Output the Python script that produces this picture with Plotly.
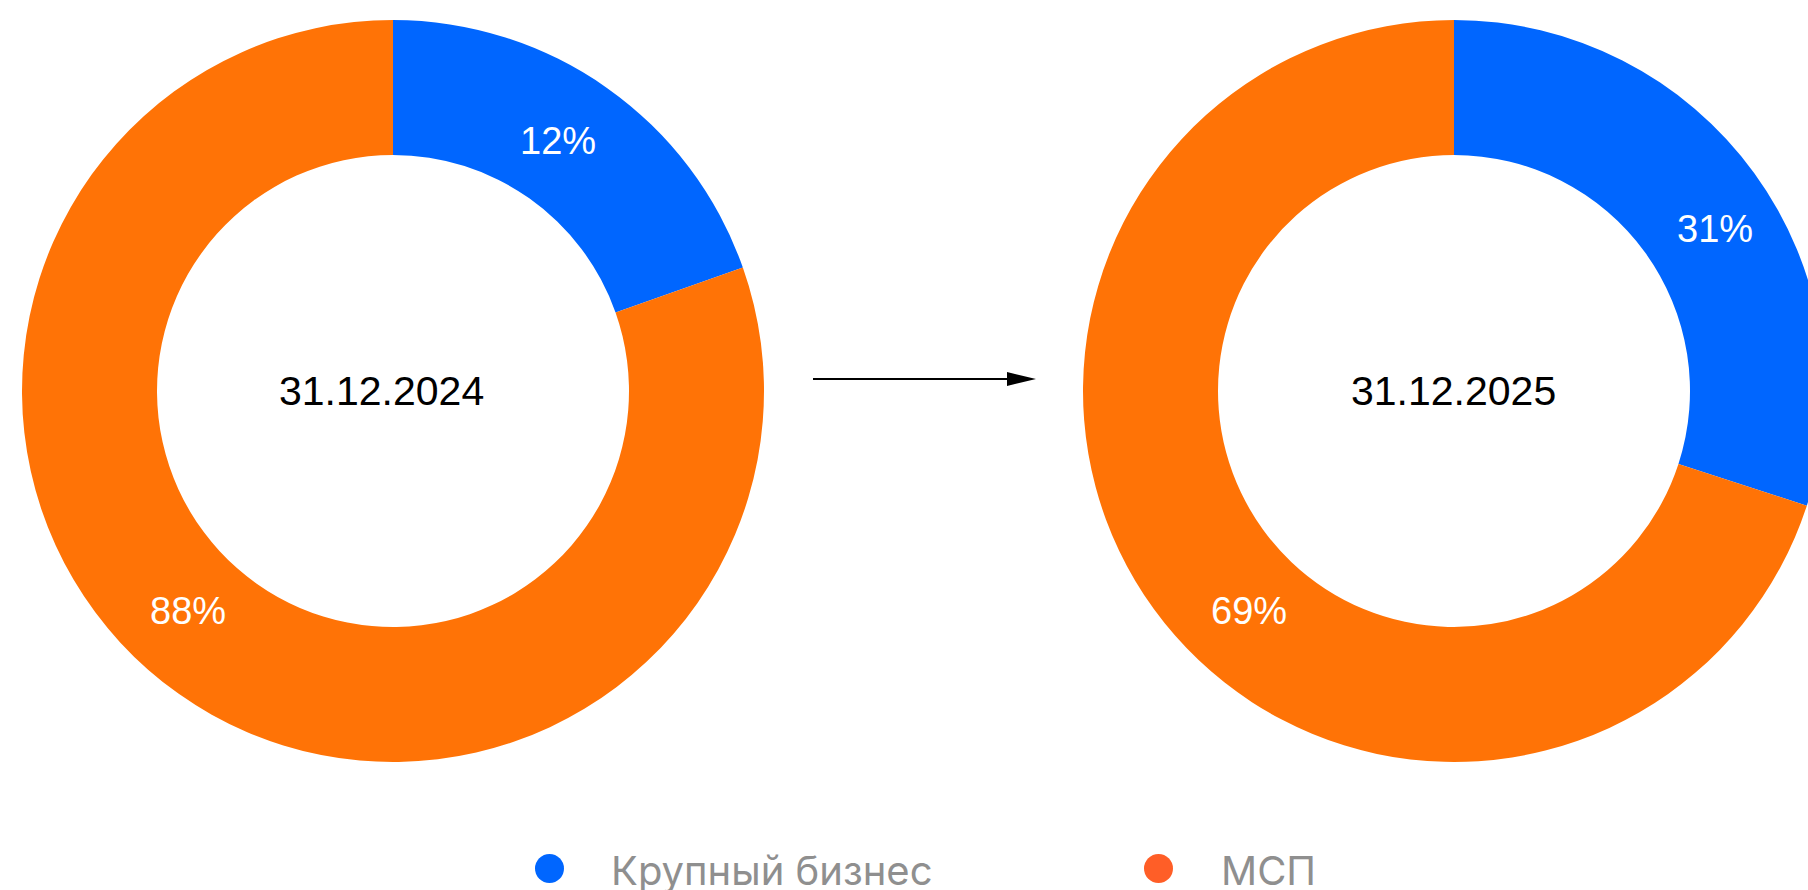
import plotly.graph_objects as go

# ---- data ----
categories = ["Крупный бизнес", "МСП"]
dates = ["31.12.2024", "31.12.2025"]
# slice sizes as drawn in the picture (share of the ring)
shares_2024 = [19.6, 80.4]
shares_2025 = [30.0, 70.0]
# labels as printed on the slices
labels_2024 = ["12%", "88%"]
labels_2025 = ["31%", "69%"]

# ---- style ----
W, H = 1830, 890
BLUE = "#0066FF"
ORANGE = "#FF7306"
LEGEND_ORANGE = "#FF5E27"
FONT = "Liberation Sans, Arial, sans-serif"
LEGEND_FONT = "Inter, Liberation Sans, sans-serif"


def fx(x):
    return x / W


def fy(y):
    return 1 - y / H


R = 371
HOLE = 236 / 371
centers = [(393, 391), (1454, 391)]
date_x = [381, 1453]
# label anchor points (pixels) for [blue, orange] of each ring
label_pos = [[(558, 141), (188, 611)], [(1715, 229), (1249, 611)]]

fig = go.Figure()
annotations = []
for (cx, cy), shares, texts, date, dx, lp in zip(
    centers, [shares_2024, shares_2025], [labels_2024, labels_2025], dates, date_x, label_pos
):
    fig.add_trace(
        go.Pie(
            labels=categories,
            values=shares,
            text=texts,
            textinfo="none",
            hole=HOLE,
            sort=False,
            direction="clockwise",
            rotation=0,
            marker=dict(colors=[BLUE, ORANGE], line=dict(width=0)),
            domain=dict(x=[fx(cx - R), fx(cx + R)], y=[fy(cy + R), fy(cy - R)]),
            showlegend=False,
        )
    )
    annotations.append(
        dict(text=date, xref="paper", yref="paper", x=fx(dx), y=fy(cy),
             xanchor="center", yanchor="middle", showarrow=False,
             font=dict(family=FONT, size=41, color="#000000"))
    )
    for t, (lx, ly) in zip(texts, lp):
        annotations.append(
            dict(text=t, xref="paper", yref="paper", x=fx(lx), y=fy(ly),
                 xanchor="center", yanchor="middle", showarrow=False,
                 font=dict(family=FONT, size=38, color="white"))
        )

shapes = [
    # arrow between the two rings
    dict(type="line", xref="paper", yref="paper",
         x0=fx(813), x1=fx(1012), y0=fy(379), y1=fy(379),
         line=dict(color="black", width=2)),
    dict(type="path", xref="paper", yref="paper",
         path=f"M {fx(1007)},{fy(372)} L {fx(1036)},{fy(379)} L {fx(1007)},{fy(386)} Z",
         fillcolor="black", line=dict(width=0)),
    # legend dots
    dict(type="circle", xref="paper", yref="paper",
         x0=fx(535), x1=fx(564), y0=fy(883), y1=fy(854),
         fillcolor=BLUE, line=dict(width=0)),
    dict(type="circle", xref="paper", yref="paper",
         x0=fx(1144), x1=fx(1173), y0=fy(883), y1=fy(854),
         fillcolor=LEGEND_ORANGE, line=dict(width=0)),
]

annotations += [
    dict(text=categories[0], xref="paper", yref="paper", x=fx(609), y=fy(870),
         xanchor="left", yanchor="middle", showarrow=False,
         font=dict(family=LEGEND_FONT, size=40, color="#8F8F8F")),
    dict(text=categories[1], xref="paper", yref="paper", x=fx(1219), y=fy(870),
         xanchor="left", yanchor="middle", showarrow=False,
         font=dict(family=LEGEND_FONT, size=40, color="#8F8F8F")),
]

fig.update_layout(
    width=W,
    height=H,
    margin=dict(l=0, r=0, t=0, b=0),
    paper_bgcolor="white",
    plot_bgcolor="white",
    shapes=shapes,
    annotations=annotations,
    showlegend=False,
)

fig.write_html(
    "out.html",
    config={"displayModeBar": False},
    post_script="document.body.style.margin='0';document.body.style.overflow='hidden';",
)
